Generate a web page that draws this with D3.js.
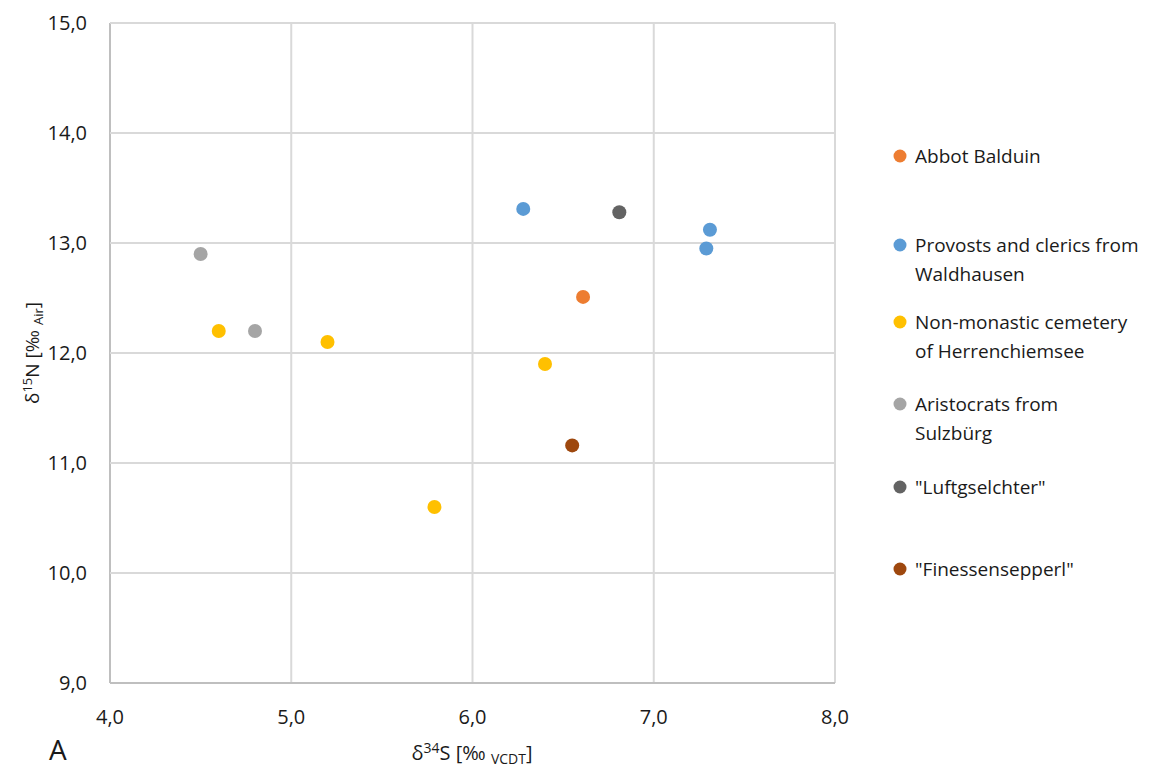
<!DOCTYPE html>
<html><head><meta charset="utf-8">
<script src="https://cdn.jsdelivr.net/npm/d3@7"></script>
<style>body{margin:0;background:#fff}svg{display:block}text{font-family:"Open Sans",Lato,sans-serif;fill:#1a1a1a}</style>
</head><body><svg id="c" width="1172" height="769"></svg>
<script>
const seriesNames = ["Abbot Balduin","Provosts and clerics from Waldhausen","Non-monastic cemetery of Herrenchiemsee","Aristocrats from Sulzbürg","\"Luftgselchter\"","\"Finessensepperl\""];
const seriesColors = ["#ED7D31","#5B9BD5","#FFC000","#A5A5A5","#636363","#9E480E"];
const abbotS = [6.61], abbotN = [12.51];
const provostsS = [6.28, 7.31, 7.29], provostsN = [13.31, 13.12, 12.95];
const nonMonS = [4.60, 5.20, 6.40, 5.79], nonMonN = [12.20, 12.10, 11.90, 10.60];
const aristS = [4.50, 4.80], aristN = [12.90, 12.20];
const luftS = [6.81], luftN = [13.28];
const finS = [6.55], finN = [11.16];
const xTicks = [4,5,6,7,8];
const yTicks = [9,10,11,12,13,14,15];
const legendLines = [["Abbot Balduin"],["Provosts and clerics from","Waldhausen"],["Non-monastic cemetery","of Herrenchiemsee"],["Aristocrats from","Sulzbürg"],["\"Luftgselchter\""],["\"Finessensepperl\""]];

const seriesS = [abbotS, provostsS, nonMonS, aristS, luftS, finS];
const seriesN = [abbotN, provostsN, nonMonN, aristN, luftN, finN];

const svg = d3.select("#c");
const x = d3.scaleLinear().domain([4,8]).range([110,835]);
const y = d3.scaleLinear().domain([9,15]).range([683,23]);
const fmt = d => d.toFixed(1).replace(".", ",");

// grid
svg.append("g").selectAll("line").data(xTicks).join("line")
  .attr("x1", d=>x(d)).attr("x2", d=>x(d)).attr("y1", y(9)).attr("y2", y(15))
  .attr("stroke", d=> d===4 ? "#bfbfbf" : "#d9d9d9").attr("stroke-width", 2);
svg.append("g").selectAll("line").data(yTicks).join("line")
  .attr("x1", x(4)).attr("x2", x(8)).attr("y1", d=>y(d)).attr("y2", d=>y(d))
  .attr("stroke", d=> d===9 ? "#bfbfbf" : "#d9d9d9").attr("stroke-width", 2);

// tick labels
svg.append("g").selectAll("text").data(yTicks).join("text")
  .attr("x", 87).attr("y", d=>y(d)).attr("dy","0.35em").attr("text-anchor","end")
  .style("font-size","20px").text(fmt);
svg.append("g").selectAll("text").data(xTicks).join("text")
  .attr("x", d=>x(d)).attr("y", 724).attr("text-anchor","middle")
  .style("font-size","20px").text(fmt);

// axis titles
const xt = svg.append("text").attr("x", 472).attr("y", 760).attr("text-anchor","middle").style("font-size","20px");
xt.append("tspan").text("δ");
xt.append("tspan").attr("dy",-7).style("font-size","14px").text("34");
xt.append("tspan").attr("dy",7).text("S [‰ ");
xt.append("tspan").attr("dy",4).style("font-size","14px").text("VCDT");
xt.append("tspan").attr("dy",-4).text("]");

const yt = svg.append("text").attr("transform","translate(39,353) rotate(-90)").attr("text-anchor","middle").style("font-size","19px");
yt.append("tspan").text("δ");
yt.append("tspan").attr("dy",-7).style("font-size","13px").text("15");
yt.append("tspan").attr("dy",7).text("N [‰ ");
yt.append("tspan").attr("dy",4).style("font-size","13px").text("Air");
yt.append("tspan").attr("dy",-4).text("]");

// panel letter
svg.append("text").attr("x", 49).attr("y", 760).style("font-size","28px").text("A");

// points
seriesNames.forEach((name, i) => {
  const pts = seriesS[i].map((s, j) => ({s, n: seriesN[i][j]}));
  svg.append("g").selectAll("circle").data(pts).join("circle")
    .attr("cx", d=>x(d.s)).attr("cy", d=>y(d.n)).attr("r", 7)
    .attr("fill", seriesColors[i]);
});

// legend
const legendY = [156, 245, 322, 404, 487, 569];
legendLines.forEach((lines, i) => {
  const g = svg.append("g");
  g.append("circle").attr("cx", 900).attr("cy", legendY[i]).attr("r", 6.5).attr("fill", seriesColors[i]);
  lines.forEach((l, k) => {
    g.append("text").attr("x", 915).attr("y", legendY[i] + k*29).attr("dy","0.35em")
      .style("font-size","19px").text(l);
  });
});
</script></body></html>
